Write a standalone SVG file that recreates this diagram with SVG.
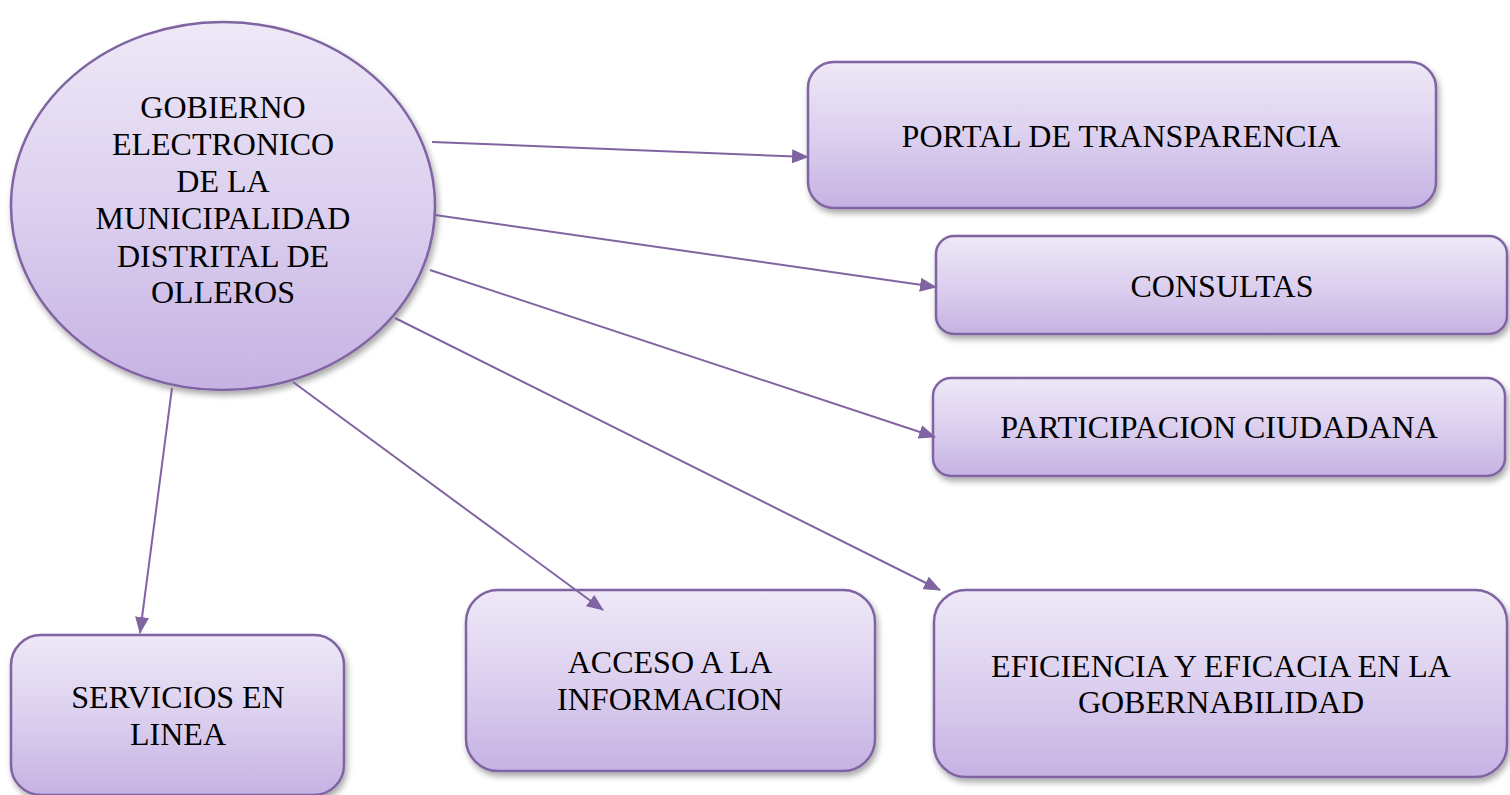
<svg xmlns="http://www.w3.org/2000/svg" width="1510" height="795" viewBox="0 0 1510 795">
<style>
.node{fill:url(#g);stroke:#8064a2;stroke-width:2.5;filter:url(#sh)}
.t{font-family:"Liberation Serif","Times New Roman",serif;font-size:32px;fill:#000;text-anchor:middle}
.c{stroke:#8064a2;stroke-width:2;fill:none;marker-end:url(#ah)}
</style>
<defs>
<linearGradient id="g" x1="0" y1="0" x2="0" y2="1">
<stop offset="0" stop-color="#eee8f7"/>
<stop offset="0.5" stop-color="#dcd0ef"/>
<stop offset="1" stop-color="#c6b2e3"/>
</linearGradient>
<filter id="sh" x="-10%" y="-10%" width="125%" height="130%">
<feGaussianBlur in="SourceAlpha" stdDeviation="3"/>
<feOffset dx="2" dy="4" result="b"/>
<feComponentTransfer><feFuncA type="linear" slope="0.35"/></feComponentTransfer>
<feMerge><feMergeNode/><feMergeNode in="SourceGraphic"/></feMerge>
</filter>
<marker id="ah" viewBox="0 0 17 14" refX="16" refY="7" markerWidth="17" markerHeight="14" markerUnits="userSpaceOnUse" orient="auto">
<path d="M0,0 L17,7 L0,14 z" fill="#8064a2"/>
</marker>
</defs>
<rect width="1510" height="795" fill="#fff"/>
<g id="center">
<ellipse class="node" cx="223" cy="206" rx="212" ry="184"/>
<text class="t" x="223" y="118">GOBIERNO</text>
<text class="t" x="223" y="155">ELECTRONICO</text>
<text class="t" x="223" y="192">DE LA</text>
<text class="t" x="223" y="229">MUNICIPALIDAD</text>
<text class="t" x="223" y="267">DISTRITAL DE</text>
<text class="t" x="223" y="303">OLLEROS</text>
</g>
<g id="portal">
<rect class="node" x="808" y="62" width="628" height="146" rx="26"/>
<text class="t" x="1121" y="147">PORTAL DE TRANSPARENCIA</text>
</g>
<g id="consultas">
<rect class="node" x="936" y="236" width="571" height="98" rx="18"/>
<text class="t" x="1222" y="297">CONSULTAS</text>
</g>
<g id="participacion">
<rect class="node" x="933" y="378" width="572" height="98" rx="18"/>
<text class="t" x="1219" y="438">PARTICIPACION CIUDADANA</text>
</g>
<g id="servicios">
<rect class="node" x="11" y="635" width="333" height="160" rx="30"/>
<text class="t" x="178" y="708">SERVICIOS EN</text>
<text class="t" x="178" y="745">LINEA</text>
</g>
<g id="acceso">
<rect class="node" x="466" y="590" width="409" height="181" rx="32"/>
<text class="t" x="670" y="673">ACCESO A LA</text>
<text class="t" x="670" y="710">INFORMACION</text>
</g>
<g id="eficiencia">
<rect class="node" x="934" y="590" width="573" height="187" rx="32"/>
<text class="t" x="1221" y="677">EFICIENCIA Y EFICACIA EN LA</text>
<text class="t" x="1221" y="713">GOBERNABILIDAD</text>
</g>
<g id="connectors">
<line class="c" x1="432" y1="142" x2="808" y2="157"/>
<line class="c" x1="435" y1="215" x2="936" y2="287"/>
<line class="c" x1="430" y1="270" x2="935" y2="437"/>
<line class="c" x1="395" y1="318" x2="940" y2="590"/>
<line class="c" x1="293" y1="382" x2="603" y2="610"/>
<line class="c" x1="172" y1="388" x2="140" y2="633"/>
</g>
</svg>
